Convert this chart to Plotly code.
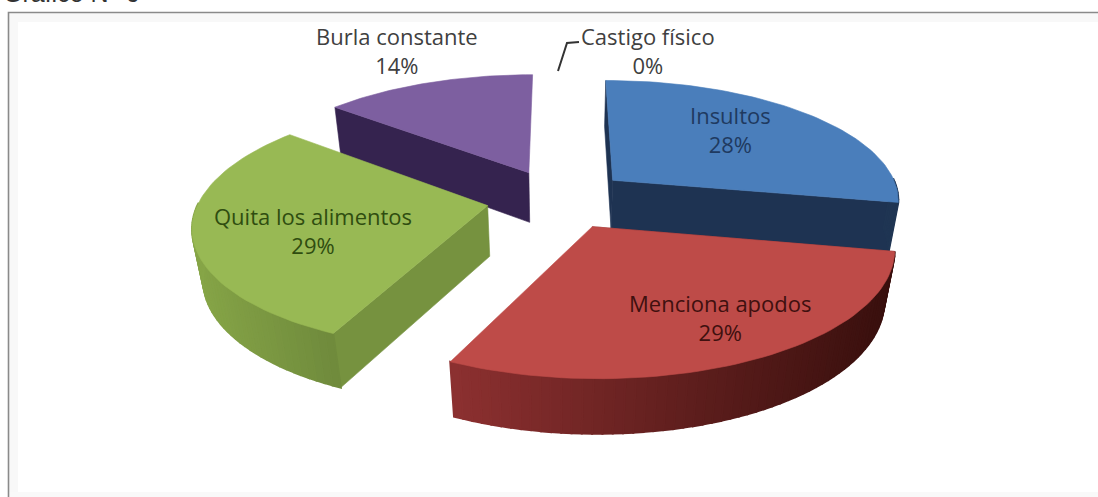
import numpy as np
import plotly.graph_objects as go

categories = ["Insultos", "Menciona apodos", "Quita los alimentos", "Burla constante", "Castigo físico"]
values = [28, 29, 29, 14, 0]
percent_labels = ["28%", "29%", "29%", "14%", "0%"]
top_colors = ["#4a7ebb", "#be4b48", "#98b954", "#7d5fa0", "#f79646"]
wall_left = ["#1c3150", "#8c3030", "#86a547", "#35234f", "#b66d31"]
wall_right = ["#1f3553", "#380f0d", "#6f8a3c", "#35234f", "#b66d31"]
radial_colors = ["#1e3352", "#8c3030", "#76923f", "#35234f", "#b66d31"]
text_colors = ["#1f3a60", "#40100f", "#2f4d10", "#404040", "#404040"]
label_x = [730, 720, 313, 397, 648]
label_y = [129, 317, 230, 50, 50]
hidden_end_wall = [False, True, True, True, True]

# projection of the tilted pie onto the page
CX, CY, A, B, K, DEPTH, BOTTOM = 558.5, 199, 288, 120, 0.15, 52, 0.03
EXPLODE = 0.25


def project(x, y, down):
    w = 1 - K * y + (BOTTOM if down else 0)
    return CX + A * x / w, CY + (B * y + (DEPTH if down else 0)) / w


def polygon(xs, ys, color, lw=0.6):
    return go.Scatter(x=list(xs) + [xs[0]], y=list(ys) + [ys[0]], mode="lines", fill="toself",
                      fillcolor=color, line=dict(color=color, width=lw), hoverinfo="skip", showlegend=False)


def mix(c1, c2, t):
    a = [int(c1[i:i + 2], 16) for i in (1, 3, 5)]
    b = [int(c2[i:i + 2], 16) for i in (1, 3, 5)]
    return "rgb(%d,%d,%d)" % tuple(round(p + (q - p) * t) for p, q in zip(a, b))


total = sum(values)
edges = np.cumsum([0] + values) / total * 2 * np.pi
slices = {}
for i, v in enumerate(values):
    t0, t1 = edges[i], edges[i + 1]
    tm = (t0 + t1) / 2
    ox, oy = EXPLODE * np.sin(tm), -EXPLODE * np.cos(tm)
    th = np.linspace(t0, t1, 61)
    slices[i] = (ox, oy, ox + np.sin(th), oy - np.cos(th))

fig = go.Figure()
for i in sorted(slices, key=lambda n: slices[n][1]):
    if values[i] == 0:
        continue
    ox, oy, ax, ay = slices[i]
    tx, ty = project(ax, ay, False)
    bx, by = project(ax, ay, True)
    ax0, ay0 = project(ox, oy, False)
    bx0, by0 = project(ox, oy, True)
    # radial walls
    fig.add_trace(polygon([ax0, tx[0], bx[0], bx0], [ay0, ty[0], by[0], by0], radial_colors[i]))
    if not hidden_end_wall[i]:
        fig.add_trace(polygon([ax0, tx[-1], bx[-1], bx0], [ay0, ty[-1], by[-1], by0], radial_colors[i]))
    # outer wall (front-facing part only) with its left-to-right shading
    span = max(tx.max() - tx.min(), 1)
    for j in range(len(tx) - 1):
        if ay[j] - oy < 0 and ay[j + 1] - oy < 0:
            continue
        shade = mix(wall_left[i], wall_right[i], ((tx[j] + tx[j + 1]) / 2 - tx.min()) / span)
        fig.add_trace(polygon([tx[j], tx[j + 1], bx[j + 1], bx[j]], [ty[j], ty[j + 1], by[j + 1], by[j]], shade, 2))
    # top face
    fig.add_trace(polygon([ax0, *tx], [ay0, *ty], top_colors[i]))

for i, name in enumerate(categories):
    fig.add_annotation(x=label_x[i], y=label_y[i], text=f"{name}<br>{percent_labels[i]}", showarrow=False,
                       font=dict(family="Open Sans", size=22, color=text_colors[i]), align="center")

fig.add_annotation(xref="paper", yref="paper", x=0, y=1, text="Gráfico N° 6", showarrow=False,
                   xanchor="left", yanchor="middle", xshift=1, yshift=7,
                   font=dict(family="Liberation Sans", size=25, color="#333333"))

shapes = [
    dict(type="rect", x0=9, x1=18, y0=13, y1=497, fillcolor="#f8f8f8", line_width=0, layer="below"),
    dict(type="rect", x0=9, x1=1098, y0=13, y1=22, fillcolor="#f8f8f8", line_width=0, layer="below"),
    dict(type="rect", x0=9, x1=1098, y0=492, y1=497, fillcolor="#f9f9f9", line_width=0, layer="below"),
    dict(type="path", path="M 8.5 497 L 8.5 12.5 L 1098 12.5", line=dict(color="#8a8a8a", width=1.6), layer="below"),
    dict(type="path", path="M 558 71 L 567 43 L 579 42", line=dict(color="#333333", width=2), layer="above"),
]
fig.update_layout(
    width=1098, height=497, margin=dict(l=0, r=0, t=0, b=0), paper_bgcolor="white", plot_bgcolor="white",
    xaxis=dict(range=[0, 1098], visible=False, fixedrange=True),
    yaxis=dict(range=[497, 0], visible=False, fixedrange=True),
    shapes=shapes, showlegend=False,
)
fig.write_html("out.html", config=dict(displayModeBar=False),
               post_script="document.body.style.margin='0';document.body.style.overflow='hidden';")
